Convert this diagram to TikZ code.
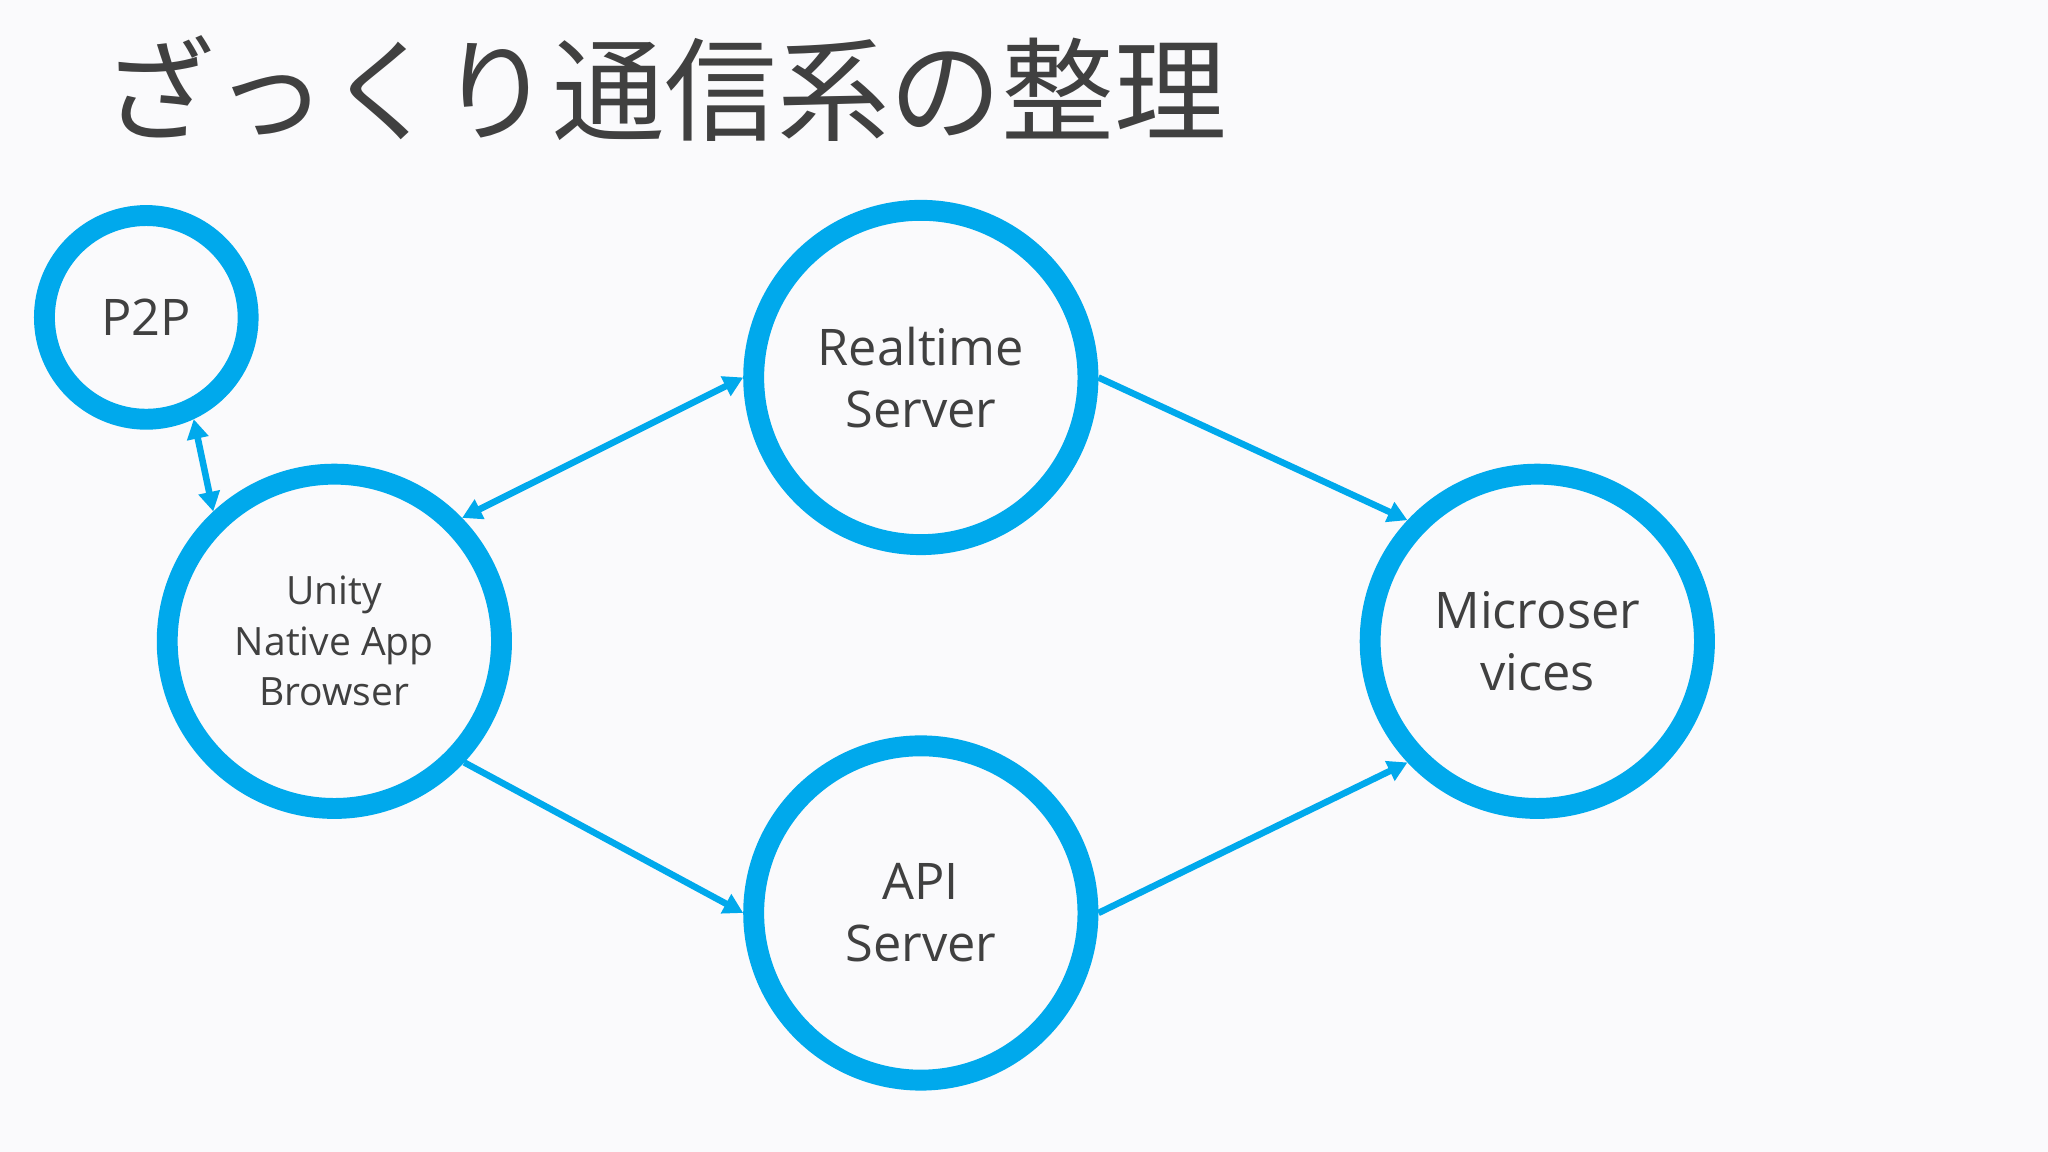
\documentclass[tikz,border=0pt]{standalone}
\usepackage{fontspec}
\setmainfont{Open Sans}
\newfontfamily\cjk{Noto Sans CJK JP}
\usetikzlibrary{arrows.meta}
\definecolor{ring}{RGB}{0,169,236}
\definecolor{txt}{RGB}{64,64,64}
\begin{document}
\begin{tikzpicture}[x=0.02cm,y=-0.02cm,
  ring/.style={circle,draw=ring,line width=0.32cm,text=txt,align=center,font=\fontsize{22}{27}\selectfont},
  big/.style={ring,minimum size=5.12cm},
  con/.style={draw=ring,line width=0.1cm,-{Triangle[length=0.3cm,width=0.32cm]}},
  bi/.style={con,{Triangle[length=0.3cm,width=0.32cm]}-{Triangle[length=0.3cm,width=0.32cm]}}]
\fill[fill={rgb,255:red,250;green,250;blue,252}] (0,0) rectangle (1568,882);
\useasboundingbox (0,0) rectangle (1568,882);
\node[anchor=west,inner sep=0,text=txt,font=\cjk\fontsize{49}{52}\selectfont] (title) at (78,68) {ざっくり通信系の整理};
\node[ring,minimum size=3.12cm] (p2p) at (112,243) {P2P};
\node[big,font=\fontsize{17}{22}\selectfont] (unity) at (256,491) {Unity\\Native App\\Browser};
\node[big] (rt) at (705,289) {Realtime\\Server};
\node[big] (api) at (705,699) {API\\Server};
\node[big] (ms) at (1177,491) {Microser\\vices};
\draw[bi] (p2p.-65) -- (unity.133);
\draw[bi] (unity.44) -- (rt.west);
\draw[con] (unity.-43) -- (api.west);
\draw[con] (rt.east) -- (ms.137);
\draw[con] (api.east) -- (ms.-137);
\end{tikzpicture}
\end{document}
